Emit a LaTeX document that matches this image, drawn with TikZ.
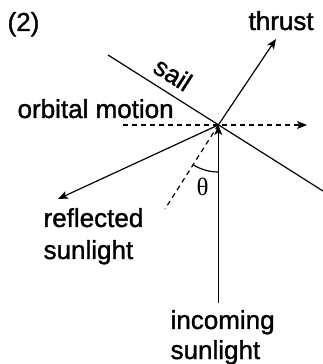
\documentclass[tikz,border=0pt]{standalone}
\usepackage{fontspec}
\setmainfont[FakeBold=1.3]{Liberation Sans}
\newfontfamily\grkfont{Liberation Serif}
\usetikzlibrary{arrows.meta}
\begin{document}
\begin{tikzpicture}[x=1pt,y=1pt,
  line width=1.2pt,
  tip/.style={-{Stealth[length=10pt,width=8pt,inset=2.5pt]}},
  dashline/.style={dash pattern=on 5pt off 4pt},
  lbl/.style={anchor=base west,inner sep=0pt,font=\fontsize{26}{31}\selectfont}]
\useasboundingbox (0,0) rectangle (323,364);
\coordinate (C) at (218.3,239);
\coordinate (S1) at (108,309);
\coordinate (S2) at (323,173);
\coordinate (T) at (276,325);
\coordinate (O1) at (123,239);
\coordinate (O2) at (307,239);
\coordinate (I) at (218.3,61);
\coordinate (R) at (58,165);
\coordinate (N) at (165,155);
% sail
\draw (S1) -- (S2);
% thrust
\draw[tip] (C) -- (T);
% orbital motion
\draw[tip,dashline] (O1) -- (O2);
% incoming
\draw[tip] (I) -- (C);
% reflected
\draw[tip] (C) -- (R);
% normal
\draw[dashline] (C) -- (N);
% theta arc
\draw (C) ++(237.5:47) arc[start angle=237.5,end angle=270,radius=47];
% labels
\node[lbl] (n2) at (7,333) {(2)};
\node[lbl] (nthrust) at (248,334) {thrust};
\node[lbl] (norb) at (17,246) {orbital motion};
\node[lbl] (nrefl) at (43,137) {reflected};
\node[lbl] (nrefl2) at (43,105) {sunlight};
\node[lbl] (ninc) at (170,35) {incoming};
\node[lbl] (ninc2) at (170,5) {sunlight};
\node[inner sep=0pt,font=\fontsize{26}{31}\selectfont,rotate=-32.5] (nsail) at (173,290) {sail};
\node[inner sep=0pt,font=\grkfont\fontsize{25}{30}\selectfont] (ntheta) at (202.5,177.5) {θ};
\end{tikzpicture}
\end{document}
